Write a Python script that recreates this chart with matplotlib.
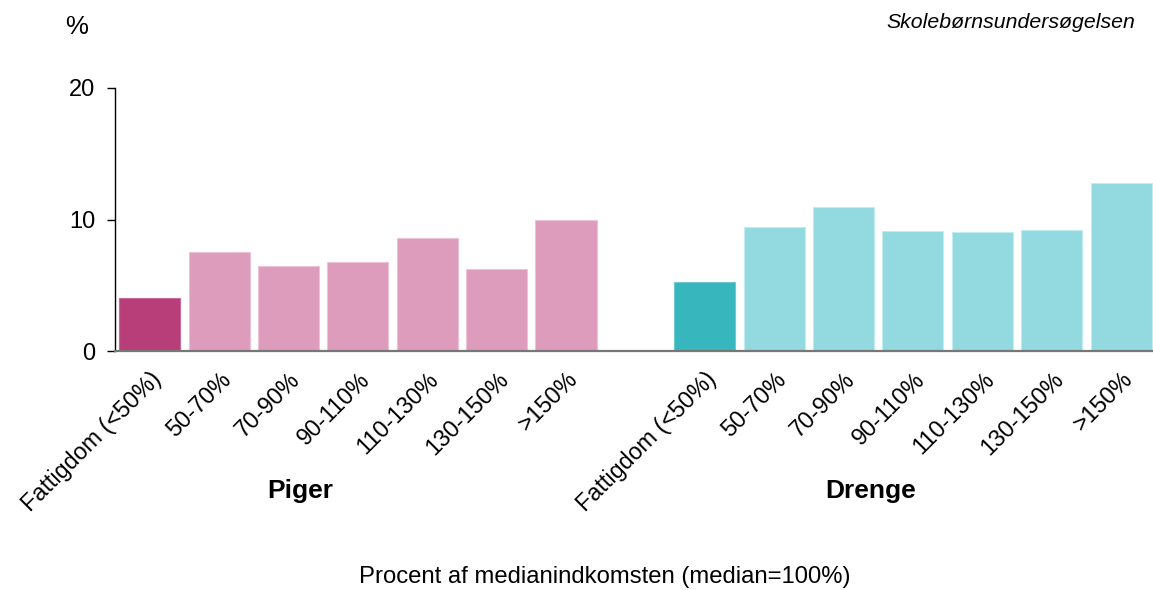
import matplotlib
matplotlib.use("Agg")
import matplotlib.pyplot as plt

plt.rcParams['font.family'] = ['Liberation Sans', 'DejaVu Sans']

categories = ["Fattigdom (<50%)", "50-70%", "70-90%", "90-110%", "110-130%", "130-150%", ">150%"]
piger = [4.0, 7.55, 6.5, 6.77, 8.57, 6.24, 10.0]
drenge = [5.24, 9.41, 10.97, 9.16, 9.03, 9.18, 12.8]
groups = ["Piger", "Drenge"]
yticks = [0, 10, 20]

pink_dark, pink_light = "#B83E7A", "#DD9CBC"
teal_dark, teal_light = "#38B6BD", "#92DAE0"

fig = plt.figure(figsize=(11.53, 5.90), dpi=100)
ax = fig.add_axes([115/1153, 1-351/590, 1-115/1153, (351-88)/590])

n = len(categories)
xp = list(range(n))
xd = [i + n + 1 for i in range(n)]
ax.bar(xp, piger, width=0.88, color=[pink_dark] + [pink_light]*(n-1),
       edgecolor=["#C9669A"] + ["#EBC3D6"]*(n-1), linewidth=0.8)
ax.bar(xd, drenge, width=0.88, color=[teal_dark] + [teal_light]*(n-1),
       edgecolor=["#6CCAD0"] + ["#C2ECEF"]*(n-1), linewidth=0.8)

ax.set_xlim(-0.5, 2*n + 0.46)
ax.set_ylim(0, 20)
ax.set_yticks(yticks)
ax.set_yticklabels([str(v) for v in yticks], fontsize=17)
ax.tick_params(axis='y', length=6, width=1, color='black', pad=8)
ax.set_xticks(xp + xd)
ax.set_xticklabels(categories + categories, rotation=45, ha='right',
                   rotation_mode='anchor', fontsize=16.8)
ax.tick_params(axis='x', length=0, pad=12)
for s in ['top', 'right']:
    ax.spines[s].set_visible(False)
ax.spines['left'].set_color('black')
ax.spines['left'].set_linewidth(1)
ax.spines['bottom'].set_color('#777777')
ax.spines['bottom'].set_linewidth(1.6)

fig.text(300/1153, 1-491/590, groups[0], fontsize=19, fontweight='bold', ha='center', va='center')
fig.text(871/1153, 1-491/590, groups[1], fontsize=19, fontweight='bold', ha='center', va='center')
fig.text(77/1153, 1-27/590, "%", fontsize=18.5, ha='center', va='center')
fig.text(1135/1153, 1-22/590, "Skolebørnsundersøgelsen", fontsize=15.3, style='italic', ha='right', va='center')
fig.text(605/1153, 1-577/590, "Procent af medianindkomsten (median=100%)", fontsize=17.2, ha='center', va='center')

fig.savefig("out.png", dpi=100)
